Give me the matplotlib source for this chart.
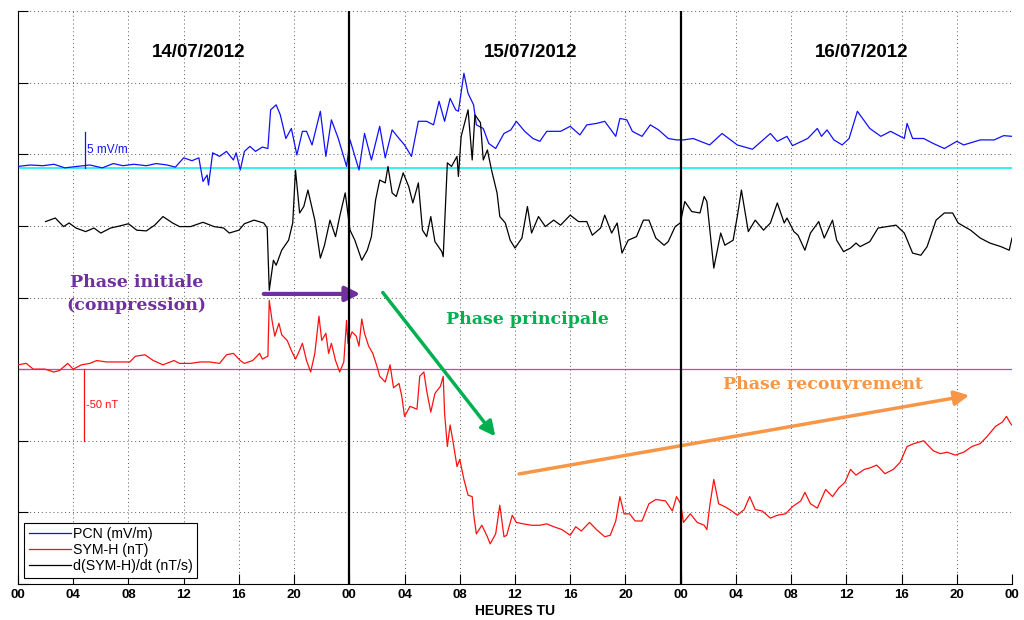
import matplotlib
matplotlib.use("Agg")
import matplotlib.pyplot as plt

# heures depuis 14/07/2012 00:00 TU
pcn_h = [0.0, 0.9, 1.8, 2.6, 3.4, 4.25, 5.2, 6.1, 6.9, 7.6, 8.4, 9.3, 10.0, 10.8, 11.4,
         12.0, 12.6, 13.1, 13.4, 13.7, 13.8, 14.1, 14.6, 15.1, 15.6, 15.8, 16.1, 16.4,
         16.8, 17.2, 17.7, 18.1, 18.3, 18.7, 19.0, 19.4, 19.8, 20.2, 20.6, 20.9, 21.3,
         21.9, 22.3, 22.7, 23.2, 23.8, 24.05, 24.7, 25.1, 25.6, 26.2, 26.6, 27.1, 27.6,
         28.0, 28.5, 29.0, 29.6, 30.1, 30.5, 30.9, 31.3, 31.7, 31.9, 32.3, 32.6, 33.0,
         33.2, 33.7, 34.1, 34.6, 35.2, 35.7, 36.1, 36.7, 37.3, 37.8, 38.3, 39.3, 40.0,
         40.7, 41.2, 41.9, 42.5, 43.3, 43.6, 44.1, 44.5, 45.2, 45.8, 46.4, 47.1, 47.7,
         48.2, 48.9, 50.1, 51.0, 52.1, 53.2, 54.5, 55.0, 55.7, 56.1, 57.2, 57.9, 58.2,
         58.6, 59.1, 59.7, 60.2, 60.8, 61.7, 62.5, 63.2, 64.2, 64.4, 64.8, 65.6, 66.3,
         67.1, 68.0, 68.5, 69.7, 70.7, 71.4, 72.0]
pcn = [0.2, 0.4, 0.3, 0.5, 0.0, 0.2, 0.4, 0.0, 0.6, 0.3, 0.5, 0.3, 0.6, 0.4, 0.1,
       1.4, 1.0, 1.4, -1.9, -1.0, -2.4, 2.1, 1.6, 2.3, 1.1, 2.1, -0.3, 2.3,
       3.0, 2.3, 2.9, 2.7, 8.1, 8.8, 7.4, 4.1, 5.5, 1.8, 5.1, 5.1, 3.2,
       7.9, 1.6, 6.7, 4.1, 0.2, 3.9, -0.3, 4.8, 1.1, 5.8, 1.4, 5.3, 4.1,
       3.2, 1.6, 6.5, 6.5, 6.0, 9.3, 6.5, 9.7, 8.1, 7.9, 13.2, 10.4, 8.8,
       6.0, 5.5, 3.4, 2.7, 4.8, 5.3, 6.5, 5.1, 4.1, 3.7, 5.1, 5.1, 5.8,
       4.6, 6.0, 6.2, 6.5, 4.4, 6.9, 6.7, 5.1, 4.4, 6.0, 5.3, 4.1, 3.9,
       3.9, 4.1, 3.2, 4.8, 3.2, 2.6, 4.8, 3.7, 4.4, 3.1, 4.1, 5.5, 4.4,
       5.3, 3.9, 3.2, 4.1, 7.9, 5.5, 4.4, 5.1, 4.1, 6.2, 4.1, 4.1, 3.4,
       2.7, 3.7, 3.2, 3.9, 3.9, 4.5, 4.4]

sym_h = [0.0, 0.6, 1.1, 1.95, 2.6, 3.0, 3.6, 4.0, 4.6, 5.2, 5.7, 6.4, 7.4, 8.1, 8.5,
         9.2, 9.8, 10.5, 11.3, 11.7, 12.5, 13.2, 13.9, 14.6, 15.1, 15.6, 16.1, 16.4,
         17.0, 17.5, 17.7, 18.1, 18.2, 18.4, 18.6, 18.9, 19.1, 19.5, 19.8, 20.1, 20.3,
         20.6, 20.9, 21.2, 21.5, 21.8, 22.0, 22.3, 22.5, 22.7, 23.0, 23.3, 23.6, 23.8,
         23.9, 24.2, 24.5, 24.7, 24.9, 25.1, 25.4, 25.7, 26.0, 26.2, 26.6, 26.95, 27.2,
         27.6, 27.8, 28.0, 28.4, 28.9, 29.1, 29.4, 29.6, 29.9, 30.2, 30.6, 30.8, 30.9,
         31.1, 31.3, 31.5, 31.8, 32.0, 32.3, 32.6, 32.9, 33.0, 33.2, 33.6, 34.0, 34.2,
         34.6, 34.9, 35.2, 35.4, 35.8, 36.1, 36.6, 37.2, 37.8, 38.3, 38.8, 39.4, 40.0,
         40.4, 40.8, 41.4, 41.9, 42.5, 42.9, 43.3, 43.6, 43.9, 44.3, 44.7, 45.2, 45.7,
         46.2, 46.9, 47.4, 47.7, 48.0, 48.2, 48.7, 49.2, 49.7, 49.9, 50.1, 50.4, 50.75,
         51.2, 51.7, 52.1, 52.6, 53.0, 53.4, 53.9, 54.5, 55.0, 55.6, 56.1, 56.7, 57.0,
         57.4, 57.9, 58.5, 59.0, 59.45, 59.9, 60.3, 60.7, 61.3, 61.7, 62.2, 62.8, 63.4,
         63.9, 64.4, 64.9, 65.6, 66.3, 66.8, 67.3, 67.9, 68.5, 69.1, 69.7, 70.2, 70.8,
         71.3, 71.6, 71.9, 72.0]
sym = [3, 4, 0, 0, -2, -1, 4, 0, 3, 4, 6, 5, 5, 5, 9,
       10, 6, 3, 6, 4, 4, 5, 5, 4, 10, 11, 6, 4,
       6, 11, 7, 9, 48, 34, 23, 32, 24, 20, 13, 7, 11,
       18, 6, -2, 11, 37, 20, 25, 11, 18, 6, -2, 5, 34,
       18, 26, 23, 16, 35, 25, 16, 11, 2, -5, -9, 3, -13,
       -10, -19, -33, -26, -28, -5, -2, -15, -30, -17, -12, -5, -31,
       -54, -39, -50, -68, -63, -77, -88, -89, -101, -115, -109, -117, -122,
       -115, -95, -117, -116, -102, -107, -108, -109, -109, -108, -110, -112, -116,
       -110, -113, -107, -112, -117, -116, -106, -89, -101, -101, -106, -106, -94,
       -91, -92, -99, -89, -94, -107, -101, -107, -109, -112, -96, -77, -94,
       -96, -99, -102, -98, -89, -98, -99, -104, -102, -101, -96, -92, -86,
       -94, -97, -84, -89, -83, -79, -70, -74, -70, -69, -67, -73, -70,
       -65, -54, -52, -50, -57, -59, -58, -60, -58, -54, -52, -47, -40,
       -37, -33, -38, -39]

dsym_h = [2.0, 2.7, 3.3, 3.7, 4.2, 4.9, 5.5, 6.0, 6.7, 7.4, 8.0, 8.6, 9.3, 9.9, 10.5,
          11.2, 11.7, 12.5, 13.4, 14.2, 14.9, 15.3, 16.0, 16.4, 17.1, 17.8, 18.05, 18.2,
          18.5, 18.7, 19.1, 19.6, 19.9, 20.1, 20.4, 20.7, 21.0, 21.5, 21.9, 22.2, 22.6,
          23.0, 23.3, 23.7, 24.05, 24.4, 24.9, 25.3, 25.6, 25.9, 26.2, 26.6, 26.8, 27.1,
          27.4, 27.9, 28.3, 28.6, 29.0, 29.3, 29.6, 29.9, 30.2, 30.7, 30.8, 31.1, 31.4,
          31.8, 31.9, 32.1, 32.6, 32.9, 33.1, 33.5, 33.7, 34.0, 34.3, 34.7, 34.9, 35.3,
          35.65, 36.0, 36.5, 36.9, 37.2, 37.7, 38.2, 38.8, 39.3, 40.0, 40.6, 41.2, 41.6,
          42.2, 42.5, 43.0, 43.4, 43.75, 44.2, 44.8, 45.3, 45.7, 46.2, 46.8, 47.1, 47.6,
          47.97, 48.3, 48.8, 49.4, 49.7, 49.9, 50.4, 50.9, 51.2, 51.8, 52.1, 52.4, 52.9,
          53.4, 54.0, 54.5, 55.0, 55.5, 55.7, 56.2, 56.5, 57.0, 57.4, 58.0, 58.4, 59.0,
          59.3, 59.8, 60.3, 60.7, 61.0, 61.7, 62.3, 62.95, 63.6, 64.2, 64.8, 65.4, 65.85,
          66.5, 67.1, 67.7, 68.1, 69.0, 69.7, 70.4, 71.2, 71.8, 72.0]
dsym = [0.006, 0.011, -0.001, 0.004, -0.003, -0.008, -0.003, -0.010, -0.003, 0.0, 0.003,
        -0.006, -0.007, 0.001, 0.013, 0.004, -0.001, -0.001, 0.005, -0.001, -0.003, -0.010,
        -0.006, 0.003, 0.008, 0.004, -0.003, -0.090, -0.048, -0.055, -0.034, -0.020, 0.004,
        0.078, 0.018, 0.027, 0.050, 0.008, -0.045, -0.027, 0.008, -0.015, 0.013, 0.046,
        -0.006, -0.020, -0.048, -0.034, -0.015, 0.036, 0.064, 0.060, 0.083, 0.046, 0.041,
        0.074, 0.055, 0.032, 0.060, -0.006, -0.015, 0.013, -0.022, -0.036, -0.043, 0.088,
        0.083, 0.097, 0.069, 0.125, 0.162, 0.092, 0.155, 0.144, 0.092, 0.106, 0.078, 0.046,
        0.013, 0.004, -0.020, -0.031, -0.017, 0.027, -0.010, 0.013, -0.001, 0.008, 0.001,
        0.015, 0.006, 0.006, -0.013, -0.003, 0.015, -0.010, 0.004, -0.038, -0.020, -0.015,
        0.008, 0.008, -0.017, -0.027, -0.022, -0.001, 0.004, 0.034, 0.020, 0.018, 0.041,
        0.034, -0.059, -0.010, -0.027, -0.020, 0.013, 0.050, -0.008, 0.008, -0.006, 0.004,
        0.032, 0.004, 0.011, -0.008, -0.013, -0.034, -0.010, 0.006, -0.017, 0.008, -0.020,
        -0.036, -0.031, -0.024, -0.029, -0.022, -0.003, -0.001, 0.001, -0.010, -0.038,
        -0.041, -0.029, 0.008, 0.018, 0.018, 0.004, -0.006, -0.017, -0.024, -0.029, -0.034,
        -0.017]

dates = ['14/07/2012', '15/07/2012', '16/07/2012']

# placement des courbes (unites de grille verticale)
PCN_BASE, PCN_SCALE = 5.81, 10.0     # 10 mV/m par division
SYM_BASE, SYM_SCALE = 3.0, 50.0      # 50 nT par division
DS_BASE, DS_SCALE = 5.0, 0.1         # 0.1 nT/s par division

plt.rcParams['font.family'] = ['Liberation Sans', 'DejaVu Sans']

fig = plt.figure(figsize=(10.24, 6.2), dpi=100)
ax = fig.add_axes([18 / 1024, 36 / 620, 994 / 1024, 573 / 620])

ax.axhline(PCN_BASE, color='#10f0f0', lw=1.2, zorder=2)
ax.axhline(SYM_BASE, color='#e030e0', lw=0.9, zorder=2)
for d in (24, 48):
    ax.axvline(d, color='black', lw=1.6, zorder=4)

ax.plot(pcn_h, [PCN_BASE + v / PCN_SCALE for v in pcn], color='#1010ff', lw=0.9,
        label='PCN (mV/m)', zorder=3)
ax.plot(sym_h, [SYM_BASE + v / SYM_SCALE for v in sym], color='#ff1010', lw=0.9,
        label='SYM-H (nT)', zorder=3)
ax.plot(dsym_h, [DS_BASE + v / DS_SCALE for v in dsym], color='black', lw=0.9,
        label='d(SYM-H)/dt (nT/s)', zorder=3)

# barres d'echelle
ax.plot([4.86, 4.86], [PCN_BASE, PCN_BASE + 5 / PCN_SCALE], color='#1010ff', lw=0.9)
ax.text(5.0, PCN_BASE + 2.5 / PCN_SCALE, '5 mV/m', color='#1010ff', fontsize=8.5,
        va='center', ha='left')
ax.plot([4.78, 4.78], [SYM_BASE, SYM_BASE - 50 / SYM_SCALE], color='#ff1010', lw=0.9)
ax.text(4.95, SYM_BASE - 25 / SYM_SCALE, '-50 nT', color='#ff1010', fontsize=8,
        va='center', ha='left')

for i, lab in enumerate(dates):
    ax.text(13.1 + 24 * i, 7.42, lab, fontsize=13.5, fontweight='bold',
            ha='center', va='center')

# phases
serif = dict(family='DejaVu Serif', fontweight='bold', fontsize=12.5)
ax.annotate('', xy=(25.0, 4.05), xytext=(17.6, 4.05),
            arrowprops=dict(arrowstyle='-|>', color='#7030a0', lw=3, mutation_scale=22))
ax.text(8.6, 4.05, 'Phase initiale\n(compression)', color='#7030a0', ha='center',
        va='center', linespacing=1.45, **serif)
ax.annotate('', xy=(34.7, 2.03), xytext=(26.3, 4.1),
            arrowprops=dict(arrowstyle='-|>', color='#00b050', lw=2.5, mutation_scale=22))
ax.text(36.9, 3.69, 'Phase principale', color='#00b050', ha='center', va='center',
        **serif)
ax.annotate('', xy=(69.1, 2.64), xytext=(36.1, 1.53),
            arrowprops=dict(arrowstyle='-|>', color='#f79646', lw=2.5, mutation_scale=22))
ax.text(58.3, 2.79, 'Phase recouvrement', color='#f79646', ha='center', va='center',
        **serif)

ax.set_xlim(0, 72)
ax.set_ylim(0, 8)
xt = list(range(0, 73, 4))
ax.set_xticks(xt)
ax.set_xticklabels(['%02d' % (h % 24) for h in xt], fontsize=9.5, fontweight='bold')
ax.set_yticks(range(0, 9))
ax.set_yticklabels([])
ax.tick_params(direction='in', length=7, width=0.8)
ax.grid(True, color='0.35', linestyle=(0, (1, 3)), lw=0.7)
ax.set_xlabel('HEURES TU', fontsize=10, fontweight='bold', labelpad=2)
for s in ('top', 'right'):
    ax.spines[s].set_visible(False)

leg = ax.legend(loc='lower left', fontsize=10.2, fancybox=False, edgecolor='black',
                framealpha=1, handlelength=3.0, borderaxespad=0.45, borderpad=0.3,
                labelspacing=0.15, handletextpad=0.15)
leg.get_frame().set_linewidth(0.8)

fig.savefig('out.png', dpi=100)
